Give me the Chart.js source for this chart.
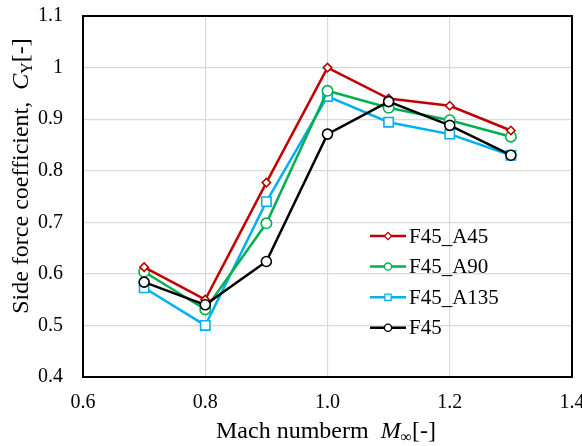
<!DOCTYPE html>
<html>
<head>
<meta charset="utf-8">
<script src="https://cdn.jsdelivr.net/npm/chart.js@4.4.0/dist/chart.umd.min.js"></script>
<style>
  html, body { margin: 0; padding: 0; background: #fff; }
  #wrap { width: 582px; height: 446px; }
</style>
</head>
<body>
<div id="wrap"><canvas id="chart"></canvas></div>
<script>
// ── Data ─────────────────────────────────────────────────────────────────────

const machNumbers = [0.7, 0.8, 0.9, 1.0, 1.1, 1.2, 1.3];
const seriesNames = ['F45_A45', 'F45_A90', 'F45_A135', 'F45'];
const cyA45  = [0.613, 0.550, 0.777, 1.000, 0.940, 0.926, 0.878];
const cyA90  = [0.604, 0.531, 0.698, 0.955, 0.922, 0.898, 0.866];
const cyA135 = [0.573, 0.500, 0.740, 0.944, 0.894, 0.871, 0.830];
const cyF45  = [0.584, 0.540, 0.624, 0.871, 0.934, 0.888, 0.830];
const xTicks = [0.6, 0.8, 1.0, 1.2, 1.4];
const yTicks = [0.4, 0.5, 0.6, 0.7, 0.8, 0.9, 1.0, 1.1];

const SERIF = '"Liberation Serif", "Times New Roman", serif';

// ── Helpers ──────────────────────────────────────────────────────────────────

function pts(ys) {
  return machNumbers.map((x, i) => ({ x, y: ys[i] }));
}

function series(label, ys, color, style, radius, order) {
  return {
    label, data: pts(ys), order,
    borderColor: color, backgroundColor: '#fff',
    borderWidth: 2.5,
    pointStyle: style, pointRadius: radius, pointHoverRadius: radius,
    pointBorderColor: color, pointBackgroundColor: '#fff', pointBorderWidth: 1.6,
    tension: 0
  };
}

// draws a row of text runs (mixed italic / subscript), centred on x
function drawRuns(ctx, runs, x, y) {
  let total = 0;
  runs.forEach(r => { ctx.font = r.font; total += ctx.measureText(r.text).width; });
  let cx = x - total / 2;
  ctx.textAlign = 'left';
  ctx.textBaseline = 'alphabetic';
  runs.forEach(r => {
    ctx.font = r.font;
    ctx.fillText(r.text, cx, y + (r.dy || 0));
    cx += ctx.measureText(r.text).width;
  });
}

// ── Plugins ──────────────────────────────────────────────────────────────────

const frame = {
  id: 'frame',
  beforeDatasetsDraw(chart) {
    const { ctx, chartArea: a } = chart;
    ctx.save();
    ctx.strokeStyle = '#000';
    ctx.lineWidth = 2;
    ctx.strokeRect(a.left, a.top, a.right - a.left, a.bottom - a.top);
    ctx.restore();
  }
};

const titles = {
  id: 'titles',
  afterDraw(chart) {
    const ctx = chart.ctx;
    ctx.save();
    ctx.fillStyle = '#000';
    const big = `24px ${SERIF}`, ital = `italic 24px ${SERIF}`, small = `16px ${SERIF}`;
    drawRuns(ctx, [
      { text: 'Mach numberm  ', font: big },
      { text: 'M', font: ital },
      { text: '\u221E', font: small, dy: 4 },
      { text: '[-]', font: big }
    ], 326, 438);
    ctx.translate(28, 176);
    ctx.rotate(-Math.PI / 2);
    drawRuns(ctx, [
      { text: 'Side force coefficient,  ', font: big },
      { text: 'C', font: ital },
      { text: 'Y', font: small, dy: 4 },
      { text: '[-]', font: big }
    ], 0, 0);
    ctx.restore();
  }
};

const legendBox = {
  id: 'legendBox',
  afterDatasetsDraw(chart) {
    const ctx = chart.ctx;
    const sizes = [3.6, 3.6, 4.4, 3.6];
    ctx.save();
    chart.data.datasets.forEach((ds, i) => {
      const y = 236 + i * 30.6;
      ctx.strokeStyle = ds.borderColor;
      ctx.lineWidth = 2.5;
      ctx.beginPath();
      ctx.moveTo(370, y);
      ctx.lineTo(406, y);
      ctx.stroke();
      ctx.fillStyle = '#fff';
      ctx.lineWidth = 1.3;
      Chart.helpers.drawPoint(ctx, {
        pointStyle: ds.pointStyle, radius: sizes[i], rotation: 0, borderWidth: 1.3
      }, 388, y);
      ctx.fillStyle = '#000';
      ctx.font = `21px ${SERIF}`;
      ctx.textAlign = 'left';
      ctx.textBaseline = 'middle';
      ctx.fillText(ds.label, 409, y + 1);
    });
    ctx.restore();
  }
};

// ── Chart ────────────────────────────────────────────────────────────────────

const ctx = document.getElementById('chart').getContext('2d');
new Chart(ctx, {
  type: 'line',
  data: {
    datasets: [
      series(seriesNames[0], cyA45,  '#C00000', 'rectRot', 4.2, 1),
      series(seriesNames[1], cyA90,  '#00B050', 'circle',  5.2, 2),
      series(seriesNames[2], cyA135, '#00B0F0', 'rect',    6.6, 3),
      series(seriesNames[3], cyF45,  '#000000', 'circle',  5.0, 0)
    ]
  },
  options: {
    responsive: true,
    maintainAspectRatio: false,
    animation: false,
    layout: { padding: { left: 0, right: 10, top: 16, bottom: 0 } },
    plugins: { legend: { display: false }, tooltip: { enabled: false } },
    scales: {
      x: {
        type: 'linear', min: 0.6, max: 1.4,
        afterBuildTicks: s => { s.ticks = xTicks.map(v => ({ value: v })); },
        afterFit: s => { s.height = 69; s.paddingLeft = 0; s.paddingRight = 0; },
        grid: { color: '#d9d9d9', lineWidth: 1.2, drawTicks: false },
        border: { display: false },
        ticks: {
          padding: 14, color: '#000', maxRotation: 0,
          font: { family: SERIF, size: 20 },
          callback: v => v.toFixed(1)
        }
      },
      y: {
        type: 'linear', min: 0.4, max: 1.1,
        afterBuildTicks: s => { s.ticks = yTicks.map(v => ({ value: v })); },
        afterFit: s => { s.width = 83; s.paddingTop = 0; s.paddingBottom = 0; },
        grid: { color: '#d9d9d9', lineWidth: 1.2, drawTicks: false },
        border: { display: false },
        ticks: {
          padding: 20, color: '#000',
          font: { family: SERIF, size: 20 },
          callback: v => String(Math.round(v * 10) / 10)
        }
      }
    }
  },
  plugins: [frame, legendBox, titles]
});
</script>
</body>
</html>
